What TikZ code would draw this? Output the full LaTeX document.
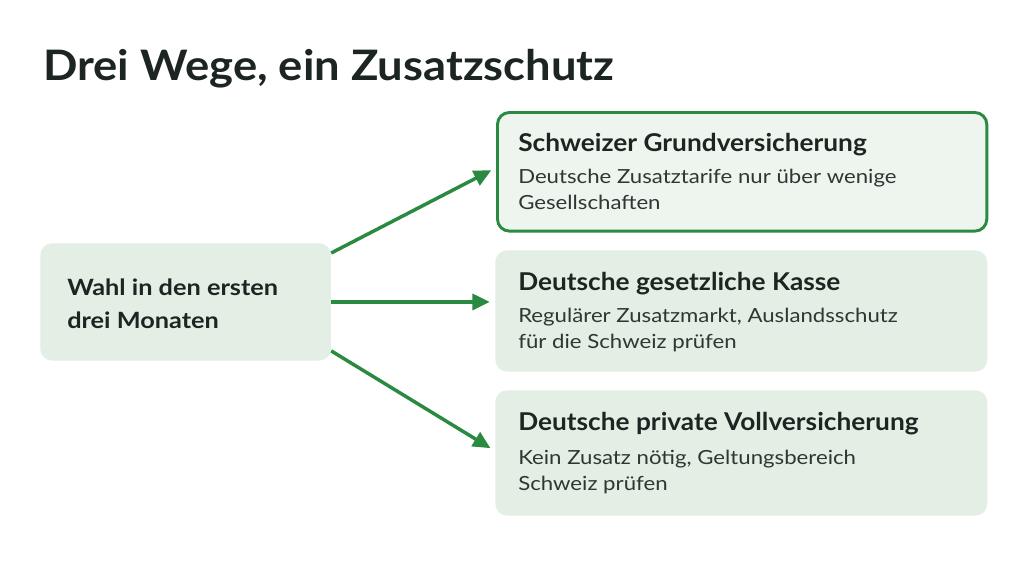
\documentclass[tikz,border=0pt]{standalone}
\usepackage{fontspec}
\setmainfont{Lato}
\newfontfamily\titlefont[FakeStretch=1.08]{Lato}
\newfontfamily\headfont[FakeStretch=1.07]{Lato}
\newfontfamily\bodyfont[FakeStretch=1.14]{Lato}
\newfontfamily\leftfont[FakeStretch=1.13]{Lato}
\usetikzlibrary{arrows.meta,calc}
\definecolor{arrowgreen}{HTML}{2B8A42}
\definecolor{boxfill}{HTML}{E3EEE5}
\definecolor{boxfillhi}{HTML}{EDF5EE}
\definecolor{titletext}{HTML}{1C2521}
\definecolor{bodytext}{HTML}{2F3633}
\tikzset{
  panel/.style={rounded corners=9pt, fill=boxfill, inner sep=0pt, anchor=north west},
  panelhi/.style={panel, fill=boxfillhi, draw=arrowgreen, line width=2.2pt},
  headtxt/.style={anchor=base west, inner sep=0pt, text=titletext, font=\headfont\fontsize{18.4}{22}\selectfont\bfseries},
  bodytxt/.style={anchor=base west, inner sep=0pt, text=bodytext, font=\bodyfont\fontsize{14.6}{19.5}\selectfont, align=left},
  flow/.style={draw=arrowgreen, line width=2.6pt, -{Triangle[length=13pt,width=12pt]}, shorten >=4pt},
}
\begin{document}
\begin{tikzpicture}[x=0.75pt,y=-0.75pt]
\useasboundingbox[fill=white] (0,0) rectangle (1024,576);
\node[anchor=base west, inner sep=0pt, text=titletext, font=\titlefont\fontsize{31.5}{36}\selectfont\bfseries] (title) at (43,80) {Drei Wege, ein Zusatzschutz};
% left box
\node[panel, minimum width=218pt, minimum height=88pt] (L) at (40,243) {};
\node[anchor=base west, inner sep=0pt, text=titletext, font=\leftfont\fontsize{16.8}{24.75}\selectfont\bfseries, align=left] (Lt) at (67,328) {Wahl in den ersten\\drei Monaten};
% right boxes
\node[panelhi, minimum width=367pt, minimum height=89pt] (B1) at (496,111) {};
\node[panel, minimum width=369pt, minimum height=91pt] (B2) at (495,250) {};
\node[panel, minimum width=369pt, minimum height=94pt] (B3) at (495,390) {};
\node[headtxt] (h1) at (518,151) {Schweizer Grundversicherung};
\node[bodytxt] (t1) at (518,209) {Deutsche Zusatztarife nur über wenige\\Gesellschaften};
\node[headtxt] (h2) at (518,290) {Deutsche gesetzliche Kasse};
\node[bodytxt] (t2) at (518,348) {Regulärer Zusatzmarkt, Auslandsschutz\\für die Schweiz prüfen};
\node[headtxt] (h3) at (518,430) {Deutsche private Vollversicherung};
\node[bodytxt] (t3) at (518,490) {Kein Zusatz nötig, Geltungsbereich\\Schweiz prüfen};
% connectors
\coordinate (a1) at ($(L.north east)+(0,10)$);
\coordinate (a3) at ($(L.south east)+(0,-10)$);
\draw[flow] (a1) -- ($(B1.west)+(0,-4)$);
\draw[flow] (L.east) -- (L.east -| B2.west);
\draw[flow] (a3) -- ($(B3.west)+(0,-2)$);
\end{tikzpicture}
\end{document}
